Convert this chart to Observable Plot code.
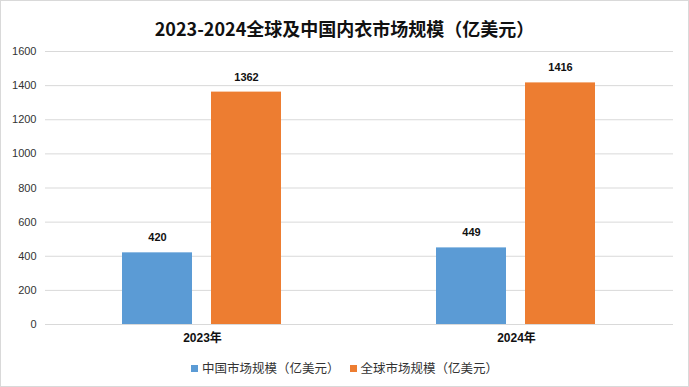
<!DOCTYPE html>
<html>
<head>
<meta charset="utf-8">
<script src="https://cdn.jsdelivr.net/npm/d3@7"></script>
<script src="https://cdn.jsdelivr.net/npm/@observablehq/plot@0.6"></script>
<style>
  html, body { margin: 0; padding: 0; background: #fff; }
  #wrap {
    box-sizing: border-box; width: 689px; height: 387px;
    border: 1px solid #d9d9d9; background: #fff;
    font-family: "Liberation Sans", "Noto Sans CJK SC", sans-serif;
  }
  #title {
    padding-top: 10px; height: 35px; line-height: 35px; text-align: center;
    font-family: "Noto Sans CJK SC", sans-serif; font-weight: bold; font-size: 18px; color: #111;
  }
  #chart svg { display: block; }
  #legend {
    margin-top: 9px; height: 20px; line-height: 20px;
    display: flex; justify-content: center; align-items: center;
    font-family: "Noto Sans CJK SC", sans-serif; font-size: 12.5px; color: #333;
  }
  .item { display: flex; align-items: center; margin: 0 5px; }
  .sw { width: 7px; height: 7px; margin-right: 4px; }
</style>
</head>
<body>
<div id="wrap">
  <div id="title">2023-2024全球及中国内衣市场规模（亿美元）</div>
  <div id="chart"></div>
  <div id="legend"></div>
</div>
<script>
const years = ["2023年", "2024年"];
const seriesNames = ["中国市场规模（亿美元）", "全球市场规模（亿美元）"];
const chinaValues = [420, 449];
const globalValues = [1362, 1416];
const yTicks = [0, 200, 400, 600, 800, 1000, 1200, 1400, 1600];
const colors = ["#5b9bd5", "#ed7d31"];

const data = years.flatMap((y, i) => [
  {year: y, series: seriesNames[0], value: chinaValues[i]},
  {year: y, series: seriesNames[1], value: globalValues[i]}
]);

const chart = Plot.plot({
  width: 687,
  height: 303,
  marginTop: 5,
  marginBottom: 25,
  marginLeft: 43,
  marginRight: 15,
  style: {fontFamily: "'Liberation Sans','Noto Sans CJK SC',sans-serif", background: "#fff"},
  fx: {domain: years, paddingInner: 0, paddingOuter: 0, label: null},
  x: {domain: seriesNames, paddingInner: 0.211, paddingOuter: 0.853, axis: null},
  y: {domain: [0, 1600], label: null},
  color: {domain: seriesNames, range: colors},
  marks: [
    Plot.ruleY(yTicks, {stroke: "#d9d9d9", strokeWidth: 1}),
    Plot.barY(data, {fx: "year", x: "series", y: "value", fill: "series"}),
    Plot.text(data, {fx: "year", x: "series", y: "value", text: d => String(d.value),
      dy: -15, fontWeight: "bold", fontSize: 11, fill: "#111"}),
    Plot.axisY({ticks: yTicks, tickFormat: d => String(d), tickSize: 0, tickPadding: 9,
      fontSize: 11, label: null, fill: "#333"}),
    Plot.axisFx({anchor: "bottom", tickSize: 0, tickPadding: 9, fontSize: 12, fontWeight: "bold", label: null, fill: "#111"})
  ]
});
document.getElementById("chart").appendChild(chart);

const legend = document.getElementById("legend");
seriesNames.forEach((name, i) => {
  const item = document.createElement("div");
  item.className = "item";
  const sw = document.createElement("span");
  sw.className = "sw";
  sw.style.background = colors[i];
  const label = document.createElement("span");
  label.textContent = name;
  item.appendChild(sw);
  item.appendChild(label);
  legend.appendChild(item);
});
</script>
</body>
</html>
